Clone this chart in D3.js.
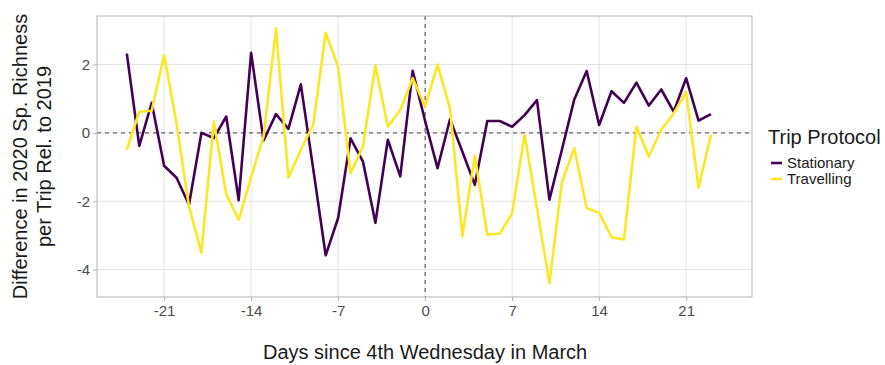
<!DOCTYPE html>
<html>
<head>
<meta charset="utf-8">
<script src="https://cdn.jsdelivr.net/npm/d3@7"></script>
<style>
  html, body { margin: 0; padding: 0; background: #fff; }
  svg { display: block; font-family: "Liberation Sans", Arial, Helvetica, sans-serif; }
</style>
</head>
<body>
<svg id="chart" width="885" height="365"></svg>
<script>
// Days relative to the 4th Wednesday in March
const days = [-24,-23,-22,-21,-20,-19,-18,-17,-16,-15,-14,-13,-12,-11,-10,-9,-8,-7,-6,-5,-4,-3,-2,-1,
              0,1,2,3,4,5,6,7,8,9,10,11,12,13,14,15,16,17,18,19,20,21,22,23];

// Difference in species richness per trip, 2020 vs 2019
const stationary = [2.32,-0.38,0.88,-0.96,-1.31,-2.10,0.00,-0.15,0.48,-1.97,2.34,-0.22,0.55,0.12,1.42,-1.06,
                    -3.58,-2.49,-0.16,-0.84,-2.63,-0.20,-1.27,1.82,0.35,-1.03,0.40,-0.55,-1.52,0.35,0.35,0.18,
                    0.52,0.96,-1.95,-0.50,0.98,1.81,0.23,1.22,0.88,1.47,0.80,1.27,0.62,1.60,0.36,0.55];
const travelling = [-0.50,0.62,0.65,2.27,0.28,-2.15,-3.50,0.33,-1.80,-2.54,-1.30,-0.10,3.05,-1.30,-0.50,0.25,
                    2.93,1.93,-1.18,-0.40,1.98,0.18,0.67,1.60,0.77,2.00,0.72,-3.02,-0.67,-2.97,-2.95,-2.36,
                    -0.05,-2.20,-4.40,-1.45,-0.45,-2.20,-2.34,-3.05,-3.12,0.18,-0.69,0.10,0.57,1.20,-1.61,-0.05];

const seriesNames = ["Stationary", "Travelling"];
const seriesColors = ["#440154", "#FDE725"];
const xTicks = [-21, -14, -7, 0, 7, 14, 21];
const yTicks = [-4, -2, 0, 2];

const svg = d3.select("#chart");
const panel = { left: 97, right: 752, top: 16, bottom: 297 };

const x = d3.scaleLinear().domain([-26.4, 26.3]).range([panel.left, panel.right]);
const y = d3.scaleLinear().domain([-4.8, 3.42]).range([panel.bottom, panel.top]);

// plain hyphen-minus in tick labels
const fmt = d => String(d);

// grid
const grid = svg.append("g");
grid.selectAll(".gx").data(xTicks).enter().append("line")
  .attr("x1", d => x(d)).attr("x2", d => x(d))
  .attr("y1", panel.top).attr("y2", panel.bottom)
  .attr("stroke", "#e3e3e3").attr("stroke-width", 1);
grid.selectAll(".gy").data(yTicks).enter().append("line")
  .attr("x1", panel.left).attr("x2", panel.right)
  .attr("y1", d => y(d)).attr("y2", d => y(d))
  .attr("stroke", "#e3e3e3").attr("stroke-width", 1);

// reference lines at zero
svg.append("line")
  .attr("x1", panel.left).attr("x2", panel.right)
  .attr("y1", y(0)).attr("y2", y(0))
  .attr("stroke", "#444").attr("stroke-width", 1).attr("stroke-dasharray", "4,4");
svg.append("line")
  .attr("x1", x(0)).attr("x2", x(0))
  .attr("y1", panel.top).attr("y2", panel.bottom)
  .attr("stroke", "#444").attr("stroke-width", 1).attr("stroke-dasharray", "4,4");

// series lines
const line = d3.line().x(d => x(d[0])).y(d => y(d[1]));
[stationary, travelling].forEach((vals, i) => {
  svg.append("path")
    .datum(days.map((d, j) => [d, vals[j]]))
    .attr("fill", "none")
    .attr("stroke", seriesColors[i])
    .attr("stroke-width", 2.6)
    .attr("stroke-linejoin", "round")
    .attr("d", line);
});

// panel border
svg.append("rect")
  .attr("x", panel.left).attr("y", panel.top)
  .attr("width", panel.right - panel.left).attr("height", panel.bottom - panel.top)
  .attr("fill", "none").attr("stroke", "#b3b3b3").attr("stroke-width", 1);

// axes
const xAxis = svg.append("g").attr("transform", `translate(0,${panel.bottom})`)
  .call(d3.axisBottom(x).tickValues(xTicks).tickFormat(fmt).tickSize(4).tickPadding(4).tickSizeOuter(0));
const yAxis = svg.append("g").attr("transform", `translate(${panel.left},0)`)
  .call(d3.axisLeft(y).tickValues(yTicks).tickFormat(fmt).tickSize(4).tickPadding(3).tickSizeOuter(0));
[xAxis, yAxis].forEach(a => {
  a.select(".domain").remove();
  a.selectAll(".tick line").attr("stroke", "#b3b3b3");
  a.selectAll(".tick text").attr("fill", "#4d4d4d").style("font-size", "15px")
    .style("font-family", "'Liberation Sans', Arial, sans-serif");
});

// axis titles
svg.append("text")
  .attr("x", x(0)).attr("y", 359)
  .attr("text-anchor", "middle")
  .style("font-size", "20px").attr("fill", "#1a1a1a")
  .text("Days since 4th Wednesday in March");

const yTitle = svg.append("text")
  .attr("transform", `translate(0,${(panel.top + panel.bottom) / 2}) rotate(-90)`)
  .attr("text-anchor", "middle")
  .style("font-size", "20px").attr("fill", "#1a1a1a");
yTitle.append("tspan").attr("x", 0).attr("y", 27).text("Difference in 2020 Sp. Richness");
yTitle.append("tspan").attr("x", 0).attr("y", 51).text("per Trip Rel. to 2019");

// legend
const legend = svg.append("g").attr("transform", "translate(768,0)");
legend.append("text").attr("x", 0).attr("y", 144)
  .style("font-size", "20px").attr("fill", "#1a1a1a").text("Trip Protocol");
seriesNames.forEach((name, i) => {
  const cy = 163 + i * 16;
  legend.append("line")
    .attr("x1", 3).attr("x2", 14).attr("y1", cy).attr("y2", cy)
    .attr("stroke", seriesColors[i]).attr("stroke-width", 2.6);
  legend.append("text").attr("x", 19).attr("y", cy + 5)
    .style("font-size", "15px").attr("fill", "#1a1a1a").text(name);
});
</script>
</body>
</html>
